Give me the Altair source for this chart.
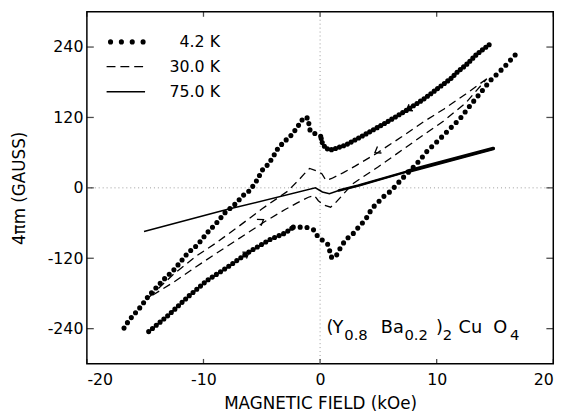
import altair as alt
import pandas as pd

FONT = "DejaVu Sans"

# ---------------- data ----------------
# 4.2 K loop (dots)
# decreasing-field branch, right part
k42_dec_r_x = [14.5, 13.45, 12.6, 11.75, 11.2, 10.06, 8.94, 7.4, 5.55, 3.86, 2.2, 1.6, 1.0, 0.5, 0.2, 0.05]
k42_dec_r_y = [244, 228, 211, 197, 186, 169, 152, 132, 110, 91, 73, 69, 65, 67, 76, 88]
# decreasing-field branch, left part
k42_dec_l_x = [0.05, -0.4, -0.85, -1.05, -1.4, -1.9, -2.4, -3.0, -3.6, -4.0, -4.45, -4.9, -5.45,
               -6.0, -6.6, -7.4, -8.1, -8.8, -9.7, -10.5, -11.35, -12.5, -13.4, -14.7, -15.4, -16.4, -17.1]
k42_dec_l_y = [88, 92, 97, 119, 120, 105, 91, 80, 68, 54, 40, 32, 12,
               -4, -13, -30, -41, -58, -77, -97, -111, -139, -156, -184, -203, -226, -248]
# increasing-field branch, left part
k42_inc_l_x = [-14.7, -13.0, -11.35, -9.7, -8.0, -6.0, -4.3, -3.0, -2.3]
k42_inc_l_y = [-245, -217, -186, -158, -136, -108, -88, -77, -67]
# increasing-field branch, right part
k42_inc_r_x = [-2.3, -1.2, -0.5, -0.2, 0.7, 0.95, 1.3, 1.75, 2.2, 2.75, 3.3, 3.9, 4.45, 5.0, 5.55,
               6.1, 6.5, 7.0, 7.7, 8.5, 9.2, 10.2, 11.2, 12.0, 12.9, 13.8, 14.6, 15.7, 16.8]
k42_inc_r_y = [-67, -67, -72, -83, -97, -118, -119, -102, -88, -80, -67, -54, -35, -24, -13,
               -5, 4, 15, 29, 46, 63, 82, 102, 118, 141, 163, 183, 204, 228]

# 30.0 K loop (dashed)
k30_dec_x = [14.3, 12.5, 10.6, 8.9, 7.0, 4.7, 3.0, 2.0, 1.0, 0.5, 0.15, -0.3, -0.9, -1.3, -1.8,
             -2.8, -5.0, -7.0, -9.0, -10.6, -12.5, -14.7]
k30_dec_y = [186, 160, 134, 113, 87, 57, 37, 26, 16, 13, 24, 29, 33, 25, 14,
             -6, -36, -66, -95, -116, -146, -187]
k30_inc_x = [-14.7, -12.5, -10.6, -9.0, -7.0, -4.7, -3.0, -2.0, -1.0, -0.5, -0.15, 0.3, 0.9, 1.3,
             1.8, 2.8, 5.0, 7.0, 9.0, 10.6, 12.5, 14.3]
k30_inc_y = [-187, -160, -134, -113, -87, -57, -37, -26, -16, -13, -22, -29, -33, -26,
             -15, 7, 36, 64, 92, 114, 145, 186]

# 75.0 K (solid)
k75_x = [-15.1, -8.0, -0.4, 0.2, 0.8, 1.6, 3.3, 7.5, 14.85]
k75_y = [-74.5, -37, 0, -7, -10, -4.5, 4, 28, 67]

# direction arrows on the branches
arrow_x = [7.4, -6.1, 4.7, -4.85]
arrow_y = [132, -110, 60, -54]
arrow_angle = [148, 327, 148, 327]

x_ticks = [-20, -10, 0, 10, 20]
y_ticks = [-240, -120, 0, 120, 240]

legend_labels = ["4.2 K", "30.0 K", "75.0 K"]

# ---------------- scales / axes ----------------
xs = alt.Scale(domain=[-20, 20], nice=False, zero=False)
ys = alt.Scale(domain=[-300, 300], nice=False, zero=False)
x_axis = alt.Axis(values=x_ticks, title="MAGNETIC FIELD (kOe)", grid=False, ticks=False,
                  domain=False, labelPadding=8, labelExpr="'' + datum.value",
                  titleY=40, titleX=236.5, titleBaseline="middle", titleAlign="center")
y_axis = alt.Axis(values=y_ticks, title="4πm (GAUSS)", grid=False, ticks=False,
                  domain=False, labelPadding=4, labelExpr="'' + datum.value",
                  titleX=-68, titleY=178.5, titleAngle=270, titleBaseline="middle",
                  titleAlign="center")
X = alt.X("x:Q", scale=xs, axis=x_axis)
Y = alt.Y("y:Q", scale=ys, axis=y_axis)


def path(px, py):
    return pd.DataFrame({"x": px, "y": py, "i": list(range(len(px)))})


def dotted(px, py, gap):
    return alt.Chart(path(px, py)).mark_line(
        stroke="black", strokeWidth=5.2, strokeCap="round", strokeDash=[0, gap]
    ).encode(x=X, y=Y, order="i:Q")


def label(txt, x, y, size, align="left", baseline="alphabetic"):
    return alt.Chart(pd.DataFrame({"t": [txt]})).mark_text(
        align=align, baseline=baseline, font=FONT, fontSize=size, color="black"
    ).encode(x=alt.value(x), y=alt.value(y), text="t:N")


layers = []

# zero reference lines
layers.append(alt.Chart(pd.DataFrame({"x": [0]})).mark_rule(
    color="#9a9a9a", strokeDash=[1, 3], strokeWidth=1).encode(x=X))
layers.append(alt.Chart(pd.DataFrame({"y": [0]})).mark_rule(
    color="#9a9a9a", strokeDash=[1, 3], strokeWidth=1).encode(y=Y))

# inward ticks on all four sides
layers.append(alt.Chart(pd.DataFrame({"x": [-20] * 5, "y": y_ticks})).mark_tick(
    orient="horizontal", size=7, thickness=1.3, xOffset=3.5, color="black").encode(x=X, y=Y))
layers.append(alt.Chart(pd.DataFrame({"x": [20] * 5, "y": y_ticks})).mark_tick(
    orient="horizontal", size=7, thickness=1.3, xOffset=-3.5, color="black").encode(x=X, y=Y))
layers.append(alt.Chart(pd.DataFrame({"x": x_ticks, "y": [-300] * 5})).mark_tick(
    orient="vertical", size=5, thickness=1.3, yOffset=-2.5, color="black").encode(x=X, y=Y))
layers.append(alt.Chart(pd.DataFrame({"x": x_ticks, "y": [300] * 5})).mark_tick(
    orient="vertical", size=5, thickness=1.3, yOffset=2.5, color="black").encode(x=X, y=Y))

# 75 K solid
k75 = path(k75_x, k75_y)
layers.append(alt.Chart(k75).mark_line(stroke="black", strokeWidth=1.5).encode(
    x=X, y=Y, order="i:Q"))
layers.append(alt.Chart(k75).transform_filter(alt.datum.x >= 1.6).mark_line(
    stroke="black", strokeWidth=2.4, strokeCap="round").encode(x=X, y=Y, order="i:Q"))
layers.append(alt.Chart(k75).transform_filter(alt.datum.x >= 7.5).mark_line(
    stroke="black", strokeWidth=3.8, strokeCap="round").encode(x=X, y=Y, order="i:Q"))

# 30 K dashed loop
layers.append(alt.Chart(path(k30_dec_x + k30_inc_x, k30_dec_y + k30_inc_y)).mark_line(
    stroke="black", strokeWidth=1.3, strokeDash=[8, 5]).encode(x=X, y=Y, order="i:Q"))

# 4.2 K dotted loop
layers.append(dotted(k42_dec_r_x, k42_dec_r_y, 4.3))
layers.append(dotted(k42_dec_l_x, k42_dec_l_y, 6.5))
layers.append(dotted(k42_inc_l_x, k42_inc_l_y, 5.0))
layers.append(dotted(k42_inc_r_x, k42_inc_r_y, 7.0))

# arrows
layers.append(alt.Chart(pd.DataFrame({"x": arrow_x, "y": arrow_y, "a": arrow_angle})).mark_point(
    shape="M -1 -0.7 L 0 0 L -1 0.7", filled=False, size=120, stroke="black",
    strokeWidth=1.3, opacity=1).encode(x=X, y=Y, angle=alt.Angle("a:Q", scale=None)))

# legend (inside the plot, top-left)
layers.append(alt.Chart(pd.DataFrame({"a": [0]})).mark_rule(
    stroke="black", strokeWidth=5.2, strokeCap="round", strokeDash=[0, 11]).encode(
    x=alt.value(24), x2=alt.value(57.5), y=alt.value(30.5)))
layers.append(alt.Chart(pd.DataFrame({"a": [0]})).mark_rule(
    stroke="black", strokeWidth=1.3, strokeDash=[9, 5]).encode(
    x=alt.value(20), x2=alt.value(59), y=alt.value(55.5)))
layers.append(alt.Chart(pd.DataFrame({"a": [0]})).mark_rule(
    stroke="black", strokeWidth=1.5).encode(
    x=alt.value(20), x2=alt.value(59), y=alt.value(81)))
layers.append(label(legend_labels[0], 135, 30.5, 16, align="right", baseline="middle"))
layers.append(label(legend_labels[1], 135, 55.5, 16, align="right", baseline="middle"))
layers.append(label(legend_labels[2], 135, 81, 16, align="right", baseline="middle"))

# compound label (Y0.8 Ba0.2)2 Cu O4
main_b, sub_b = 326, 333
layers += [
    label("(", 243, main_b, 18),
    label("Y", 249, main_b, 18),
    label("0.8", 261, sub_b, 15),
    label("Ba", 298, main_b, 18),
    label("0.2", 322, sub_b, 15),
    label(")", 354, main_b, 18),
    label("2", 361, sub_b, 15),
    label("Cu", 377, main_b, 18),
    label("O", 412, main_b, 18),
    label("4", 429, sub_b, 15),
]

chart = alt.layer(*layers).properties(
    width=473, height=357,
    autosize=alt.AutoSizeParams(type="none"),
    padding={"left": 80, "top": 1, "right": 20, "bottom": 52},
    background="white",
).configure_view(stroke="black", strokeWidth=1.5).configure_axis(
    labelFont=FONT, titleFont=FONT, labelFontSize=16, titleFontSize=17,
    labelColor="black", titleColor="black", titleFontWeight="normal",
)

chart.save("out.html", embed_options={"renderer": "svg", "actions": False})
